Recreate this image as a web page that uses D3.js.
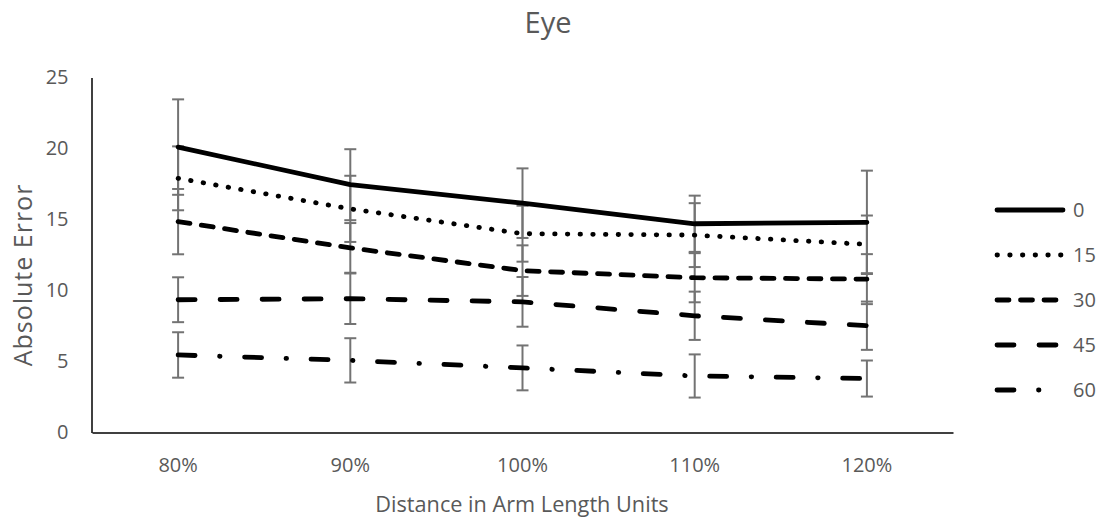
<!DOCTYPE html>
<html>
<head>
<meta charset="utf-8">
<script src="https://cdn.jsdelivr.net/npm/d3@7"></script>
<style>
  body { margin: 0; background: #fff; }
  text { font-family: "Open Sans", sans-serif; fill: #595959; }
</style>
</head>
<body>
<div id="chart"></div>
<script>
// categories and series
const distances = ["80%", "90%", "100%", "110%", "120%"]
const seriesNames = ["0", "15", "30", "45", "60"]
const meanErr = [
  [20.1, 17.45, 16.15, 14.7, 14.8],
  [17.9, 15.75, 14.0, 13.9, 13.25],
  [14.85, 13.0, 11.4, 10.9, 10.8],
  [9.35, 9.42, 9.2, 8.22, 7.52],
  [5.46, 5.08, 4.55, 3.98, 3.8]
]
const errBars = [
  [3.36, 2.5, 2.45, 1.98, 3.64],
  [2.25, 2.33, 1.97, 2.25, 2.03],
  [2.3, 1.75, 1.78, 1.73, 1.76],
  [1.58, 1.78, 1.75, 1.7, 1.7],
  [1.6, 1.56, 1.58, 1.52, 1.27]
]
const yTicks = [0, 5, 10, 15, 20, 25]

// line styles for each series
const dashes = ["none", "0.5 12.2", "12 11.5", "17 25", "17 24.5 0.5 24.5"]

const width = 1104, height = 520
const margin = {top: 77.5, left: 92, right: 151, bottom: 87.5}

const svg = d3.select("#chart").append("svg")
    .attr("width", width)
    .attr("height", height)

const x = d3.scaleBand()
    .domain(distances)
    .range([margin.left, width - margin.right])

const y = d3.scaleLinear()
    .domain([0, 25])
    .range([height - margin.bottom, margin.top])

// title
svg.append("text")
    .attr("x", 548)
    .attr("y", 33)
    .attr("text-anchor", "middle")
    .style("font-size", "29px")
    .text("Eye")

// axes
svg.append("g")
    .attr("transform", `translate(${margin.left - 0.5},0)`)
    .call(d3.axisLeft(y).tickValues(yTicks).tickSize(0).tickPadding(23))
    .call(g => g.select(".domain").attr("stroke", "#000").attr("stroke-width", 1.5))
    .call(g => g.selectAll(".tick text").style("font-size", "20px").attr("fill", "#595959"))

svg.append("g")
    .attr("transform", `translate(0,${height - margin.bottom})`)
    .call(d3.axisBottom(x).tickSize(0).tickPadding(25))
    .call(g => g.select(".domain").attr("stroke", "#000").attr("stroke-width", 1.5))
    .call(g => g.selectAll(".tick text").style("font-size", "20px").attr("fill", "#595959"))

// axis titles
svg.append("text")
    .attr("x", 522)
    .attr("y", 512)
    .attr("text-anchor", "middle")
    .style("font-size", "21.7px")
    .text("Distance in Arm Length Units")

svg.append("text")
    .attr("transform", "translate(32,275) rotate(-90)")
    .attr("text-anchor", "middle")
    .style("font-size", "25px")
    .style("letter-spacing", "1px")
    .text("Absolute Error")

const cx = d => x(d) + x.bandwidth() / 2

const data = seriesNames.map((name, i) => ({
  name,
  dash: dashes[i],
  points: distances.map((d, j) => ({dist: d, v: meanErr[i][j], e: errBars[i][j]}))
}))

// error bars
const eb = svg.append("g")
    .attr("stroke", "#737373")
    .attr("stroke-width", 2)
    .selectAll("g")
    .data(data.flatMap(s => s.points))
    .join("g")

eb.append("line")
    .attr("x1", d => cx(d.dist)).attr("x2", d => cx(d.dist))
    .attr("y1", d => y(d.v + d.e)).attr("y2", d => y(d.v - d.e))
eb.append("line")
    .attr("x1", d => cx(d.dist) - 6).attr("x2", d => cx(d.dist) + 6)
    .attr("y1", d => y(d.v + d.e)).attr("y2", d => y(d.v + d.e))
eb.append("line")
    .attr("x1", d => cx(d.dist) - 6).attr("x2", d => cx(d.dist) + 6)
    .attr("y1", d => y(d.v - d.e)).attr("y2", d => y(d.v - d.e))

// series lines
const line = d3.line()
    .x(d => cx(d.dist))
    .y(d => y(d.v))

svg.append("g")
    .selectAll("path")
    .data(data)
    .join("path")
    .attr("d", d => line(d.points))
    .attr("fill", "none")
    .attr("stroke", "#000")
    .attr("stroke-width", 4.8)
    .attr("stroke-linecap", "round")
    .attr("stroke-linejoin", "round")
    .attr("stroke-dasharray", d => d.dash)

// legend
const legend = svg.append("g")
    .selectAll("g")
    .data(data)
    .join("g")
    .attr("transform", (d, i) => `translate(997,${210 + i * 45})`)

legend.append("line")
    .attr("x1", 0).attr("x2", 66)
    .attr("stroke", "#000")
    .attr("stroke-width", 4.8)
    .attr("stroke-linecap", "round")
    .attr("stroke-dasharray", d => d.dash)

legend.append("text")
    .attr("x", 76)
    .attr("dy", "0.35em")
    .style("font-size", "20px")
    .text(d => d.name)
</script>
</body>
</html>
